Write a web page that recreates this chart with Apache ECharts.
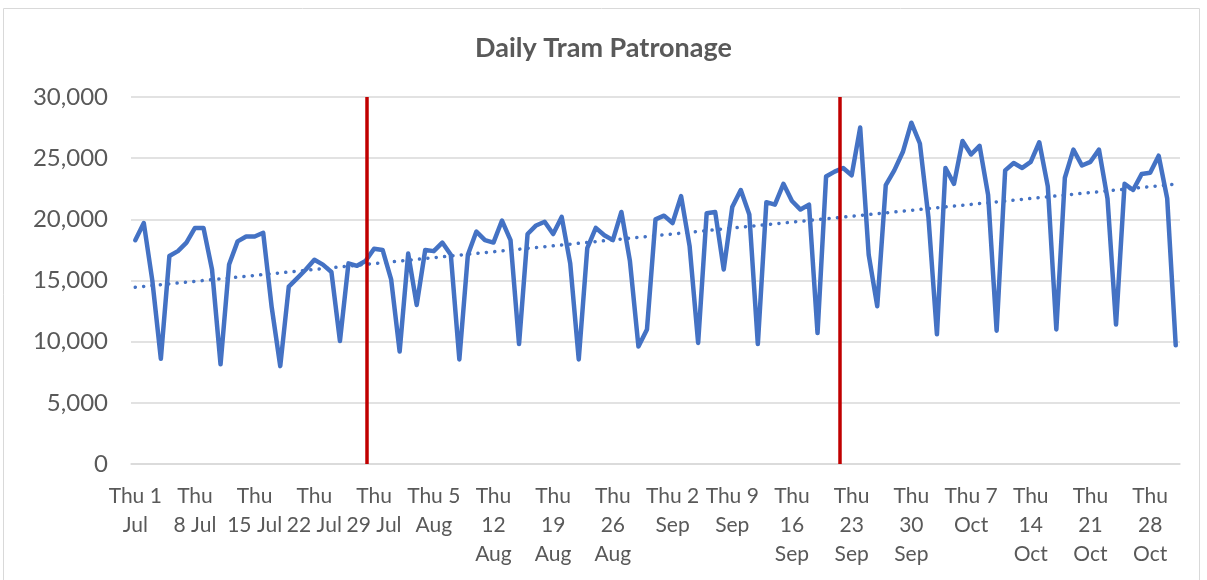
<!DOCTYPE html>
<html lang="en">
<head>
    <meta charset="UTF-8">
    <title>Daily Tram Patronage</title>
    <script src="https://cdn.jsdelivr.net/npm/echarts@6/dist/echarts.min.js"></script>
    <style>
        html, body { margin: 0; padding: 0; background: #fff; }
    </style>
</head>
<body>
<div id="main" style="width: 1207px;height:580px;"></div>

<script type="text/javascript">
    // daily patronage, one array per month (1 Jul 2021 is a Thursday)
    const julValues = [18300, 19700, 15000, 8600, 17000, 17400, 18100, 19300, 19300, 15900,
        8150, 16300, 18200, 18600, 18600, 18900, 12800, 8000, 14500, 15200,
        15900, 16700, 16300, 15700, 10050, 16400, 16200, 16600, 17600, 17500, 15100]
    const augValues = [9200, 17200, 13000, 17500, 17400, 18100, 17100, 8550, 17100, 19000,
        18300, 18100, 19900, 18300, 9800, 18800, 19500, 19800, 18800, 20200,
        16400, 8550, 17650, 19300, 18700, 18300, 20600, 16600, 9600, 11000, 20000]
    const sepValues = [20300, 19700, 21900, 17800, 9900, 20500, 20600, 15900, 21000, 22400,
        20400, 9800, 21400, 21200, 22900, 21500, 20800, 21200, 10700, 23500,
        23900, 24200, 23600, 27500, 17100, 12900, 22800, 24000, 25500, 27900]
    const octValues = [26200, 20200, 10600, 24200, 22900, 26400, 25300, 26000, 22000, 10900,
        24000, 24600, 24200, 24700, 26300, 22700, 11000, 23400, 25700, 24400,
        24700, 25700, 21700, 11400, 22900, 22400, 23700, 23800, 25200, 21700, 9700]

    const months = [['Jul', 31], ['Aug', 31], ['Sep', 30], ['Oct', 31]]
    const dayNames = ['Thu', 'Fri', 'Sat', 'Sun', 'Mon', 'Tue', 'Wed']

    // labels shown every 7th day, wrapped as in the original
    const thuLabels = ['Thu 1\nJul', 'Thu\n8 Jul', 'Thu\n15 Jul', 'Thu\n22 Jul', 'Thu\n29 Jul',
        'Thu 5\nAug', 'Thu\n12\nAug', 'Thu\n19\nAug', 'Thu\n26\nAug', 'Thu 2\nSep', 'Thu 9\nSep',
        'Thu\n16\nSep', 'Thu\n23\nSep', 'Thu\n30\nSep', 'Thu 7\nOct', 'Thu\n14\nOct',
        'Thu\n21\nOct', 'Thu\n28\nOct']

    // positions of the two red marker lines, in days from 1 Jul
    const eventDays = [27.6, 83.1]
</script>

<script type="text/javascript">
    const values = julValues.concat(augValues, sepValues, octValues)

    let categories = []
    months.forEach(function (m) {
        for (let d = 1; d <= m[1]; d++) {
            categories.push(dayNames[categories.length % 7] + ' ' + d + ' ' + m[0])
        }
    })

    // linear trendline (least squares)
    let n = values.length, sx = 0, sy = 0, sxy = 0, sxx = 0
    for (let i = 0; i < n; i++) {
        sx += i; sy += values[i]; sxy += i * values[i]; sxx += i * i
    }
    const slope = (n * sxy - sx * sy) / (n * sxx - sx * sx)
    const icpt = (sy - slope * sx) / n
    const trend = values.map((v, i) => +(icpt + slope * i).toFixed(1))

    const myChart = echarts.init(document.getElementById('main'))
    const textColor = '#595959'
    const font = 'Lato'

    const option = {
        animation: false,
        title: {
            text: 'Daily Tram Patronage',
            left: 'center',
            top: 30,
            textStyle: {fontFamily: font, fontSize: 27, fontWeight: 'bold', color: textColor}
        },
        graphic: [{
            type: 'rect',
            shape: {x: 3.5, y: 8.5, width: 1196, height: 600},
            style: {fill: 'none', stroke: '#D9D9D9', lineWidth: 1},
            silent: true
        }],
        grid: {left: 131, right: 27, top: 97, bottom: 116},
        xAxis: [{
            type: 'category',
            data: categories,
            boundaryGap: true,
            axisLine: {lineStyle: {color: '#D9D9D9', width: 1.5}},
            axisTick: {interval: 6, length: 7, lineStyle: {color: '#D0D0D0', width: 1.5}},
            axisLabel: {
                interval: 6,
                margin: 18,
                color: textColor,
                fontFamily: font,
                fontSize: 21,
                lineHeight: 29,
                formatter: function (v, idx) {
                    return thuLabels[idx / 7] || ''
                }
            },
            splitLine: {show: false}
        }, {
            type: 'value',
            min: 0,
            max: categories.length,
            show: false
        }],
        yAxis: {
            type: 'value',
            min: 0,
            max: 30000,
            interval: 5000,
            axisLine: {show: false},
            axisTick: {show: false},
            axisLabel: {
                margin: 23,
                color: textColor,
                fontFamily: font,
                fontSize: 24,
                formatter: v => v.toLocaleString('en-US')
            },
            splitLine: {lineStyle: {color: '#D9D9D9', width: 1.5}}
        },
        series: [{
            name: 'Patronage',
            type: 'line',
            data: values,
            symbol: 'none',
            lineStyle: {color: '#4472C4', width: 4.5, cap: 'round', join: 'round'},
            z: 3
        }, {
            name: 'Trend',
            type: 'line',
            data: trend,
            symbol: 'none',
            lineStyle: {color: '#4472C4', width: 3.5, type: [0.1, 8.3], cap: 'round'},
            z: 2
        }, {
            name: 'Events',
            type: 'line',
            xAxisIndex: 1,
            data: [],
            symbol: 'none',
            markLine: {
                silent: true,
                symbol: ['none', 'none'],
                label: {show: false},
                lineStyle: {color: '#C00000', width: 3.5, type: 'solid'},
                data: eventDays.map(d => ({xAxis: d}))
            },
            z: 4
        }]
    }

    myChart.setOption(option)
</script>
</body>
</html>
